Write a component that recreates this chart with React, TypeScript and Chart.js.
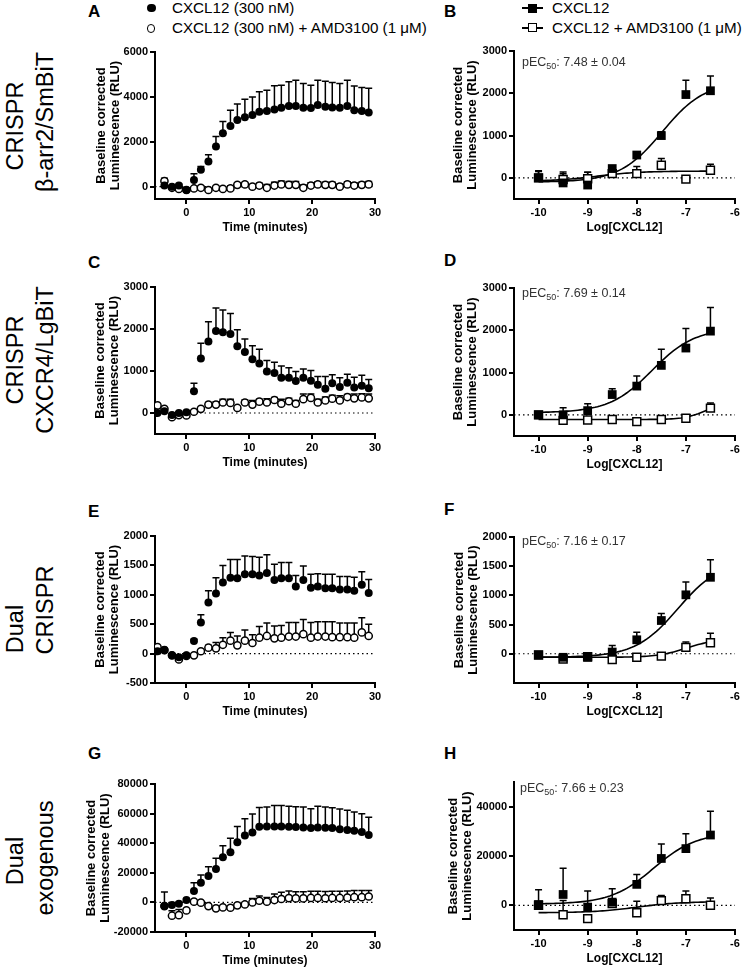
import React, { useEffect, useRef } from 'react';
import { Chart, registerables } from 'chart.js';

Chart.register(...registerables);

const FONT = "'Liberation Sans', Arial, Helvetica, sans-serif";

// ---------- Time-course data (minutes) ----------
const TIMES = [-4.6, -3.5, -2.3, -1.2, 0, 1.2, 2.3, 3.5, 4.7, 5.8, 7.0, 8.1, 9.3, 10.5, 11.6, 12.8, 14.0, 15.1, 16.3, 17.4, 18.6, 19.8, 20.9, 22.1, 23.2, 24.4, 25.6, 26.7, 27.9, 29.0];
const TIME_TICKS = [0, 10, 20, 30];

// Panel A
const A_CXCL12 = [null, 50, 0, 50, -150, 300, 750, 1120, 1790, 2380, 2700, 2970, 3090, 3190, 3340, 3370, 3440, 3520, 3590, 3590, 3520, 3500, 3640, 3560, 3530, 3520, 3590, 3410, 3370, 3300];
const A_CXCL12_SEM = [null, 60, 40, 60, 80, 280, 150, 300, 440, 520, 700, 710, 810, 810, 890, 930, 1060, 1000, 1080, 1150, 1080, 1020, 1100, 1140, 1110, 1080, 1150, 1070, 1050, 1080];
const A_AMD = [null, 250, -50, -100, -150, -80, -50, -150, -50, -100, -80, 80, 100, 0, 50, -50, 50, 100, 80, 80, -50, 50, 100, 80, 80, 0, 100, 50, 80, 100];
const A_AMD_SEM = [null, 130, 60, 60, 60, 80, 80, 60, 60, 100, 120, 80, 80, 100, 100, 150, 150, 150, 150, 150, 120, 120, 120, 120, 120, 120, 120, 120, 120, 130];
const A_Y_TICKS = [0, 2000, 4000, 6000];

// Panel C
const C_CXCL12 = [0, 40, -50, 0, 20, 520, 1300, 1700, 1950, 1920, 1880, 1590, 1450, 1280, 1180, 990, 950, 840, 840, 760, 840, 770, 670, 580, 710, 620, 720, 610, 650, 590];
const C_CXCL12_SEM = [30, 30, 30, 30, 30, 190, 360, 470, 550, 530, 490, 390, 310, 320, 340, 260, 260, 280, 240, 230, 210, 240, 200, 290, 200, 220, 200, 240, 250, 210];
const C_AMD = [180, 100, -100, -50, -60, 30, 100, 200, 200, 250, 240, 120, 250, 200, 270, 250, 310, 220, 280, 220, 330, 360, 250, 300, 340, 300, 380, 350, 370, 350];
const C_AMD_SEM = [30, 30, 30, 30, 30, 30, 30, 50, 70, 80, 90, 40, 60, 100, 60, 90, 60, 110, 70, 80, 120, 90, 80, 80, 80, 110, 60, 100, 90, 100];
const C_Y_TICKS = [0, 1000, 2000, 3000];

// Panel E
const E_CXCL12 = [40, 60, -30, -60, -30, 215, 530, 870, 1020, 1210, 1290, 1280, 1350, 1350, 1330, 1370, 1250, 1280, 1280, 1140, 1250, 1120, 1140, 1110, 1110, 1090, 1090, 1070, 1170, 1030];
const E_CXCL12_SEM = [20, 20, 20, 20, 20, 30, 130, 200, 270, 290, 310, 320, 310, 300, 310, 310, 270, 270, 270, 190, 240, 230, 220, 240, 240, 220, 220, 230, 220, 230];
const E_AMD = [110, 60, -30, -100, -40, -30, 40, 100, 90, 150, 220, 140, 220, 180, 270, 300, 260, 270, 290, 290, 330, 270, 290, 290, 280, 280, 280, 270, 360, 300];
const E_AMD_SEM = [20, 20, 20, 20, 20, 20, 20, 40, 100, 120, 140, 160, 180, 140, 190, 220, 210, 210, 240, 240, 250, 260, 250, 250, 260, 240, 240, 250, 250, 200];
const E_Y_TICKS = [-500, 0, 500, 1000, 1500, 2000];

// Panel G
const G_CXCL12 = [null, -2500, -1800, -900, 1600, 7700, 13300, 17800, 22600, 30500, 33900, 40700, 45200, 47200, 51100, 51300, 51300, 51300, 51100, 50900, 50600, 50200, 50600, 50400, 50200, 49500, 49000, 48400, 47500, 45500];
const G_CXCL12_SEM = [null, 9500, 1500, 1000, 1000, 5600, 5200, 6300, 7200, 7700, 9500, 10600, 11300, 12500, 13100, 13100, 14200, 14200, 13800, 13700, 13800, 13100, 14300, 14000, 13800, 13600, 13200, 12600, 12400, 12000];
const G_AMD = [null, -2500, -9000, -8600, -5400, 500, -200, -2500, -4000, -3400, -3600, -2000, -1400, 0, 1100, 500, 1600, 2300, 2900, 2700, 2700, 3000, 3000, 2800, 3000, 3000, 3200, 3500, 3500, 4000];
const G_AMD_SEM = [null, 500, 3300, 3800, 800, 1000, 1000, 800, 800, 1000, 1000, 1000, 1200, 2700, 3200, 2800, 4000, 4500, 4800, 4500, 4500, 4500, 4500, 4500, 4500, 4500, 4500, 4500, 4500, 4000];
const G_Y_TICKS = [-20000, 0, 20000, 40000, 60000, 80000];

// ---------- Concentration-response data (log M) ----------
const LOG_DOSE = [-10, -9.5, -9, -8.5, -8, -7.5, -7, -6.5];
const DOSE_TICKS = [-10, -9, -8, -7, -6];

const B_CXCL12 = [0, -120, -170, 220, 540, 1000, 1970, 2060];
const B_CXCL12_SEM = [170, 220, 300, 50, 80, 90, 340, 350];
const B_AMD = [0, -40, -20, 100, 100, 300, -30, 180];
const B_AMD_SEM = [150, 180, 150, 30, 170, 160, 40, 140];
const B_FIT_CXCL12 = [-100, 2280, -7.48, 1]; // bottom, top, logEC50, hill
const B_FIT_AMD = [-80, 160, -8.8, 1];
const B_Y_TICKS = [0, 1000, 2000, 3000];

const D_CXCL12 = [0, 0, 100, 480, 680, 1170, 1580, 1980];
const D_CXCL12_SEM = [30, 170, 160, 140, 240, 380, 460, 560];
const D_AMD = [0, -130, -120, -110, -160, -110, -80, 160];
const D_AMD_SEM = [20, 20, 20, 20, 20, 20, 80, 120];
const D_FIT_CXCL12 = [50, 2050, -7.69, 1];
const D_FIT_AMD = [-110, 300, -6.6, 2];
const D_Y_TICKS = [0, 1000, 2000, 3000];

const F_CXCL12 = [-20, -60, -60, 30, 240, 570, 1010, 1310];
const F_CXCL12_SEM = [10, 10, 10, 110, 130, 120, 220, 300];
const F_AMD = [-20, -90, -50, -100, -60, -40, 110, 190];
const F_AMD_SEM = [10, 10, 10, 10, 10, 10, 90, 160];
const F_FIT_CXCL12 = [-60, 1610, -7.16, 1];
const F_FIT_AMD = [-60, 250, -7.0, 1.5];
const F_Y_TICKS = [0, 500, 1000, 1500, 2000];

const H_CXCL12 = [300, 4400, -700, 1300, 8500, 19000, 23000, 28500];
const H_CXCL12_SEM = [6000, 10600, 6500, 5400, 4000, 5900, 6000, 9600];
const H_AMD = [0, -3800, -5400, 700, -3000, 1900, 2700, 0];
const H_AMD_SEM = [500, 5800, 500, 500, 4700, 2100, 3100, 3000];
const H_FIT_CXCL12 = [500, 29500, -7.66, 1];
const H_FIT_AMD = [-3000, 1500, -8.0, 1];
const H_Y_TICKS = [0, 20000, 40000];

const PEC50_LABELS = ['7.48 ± 0.04', '7.69 ± 0.14', '7.16 ± 0.17', '7.66 ± 0.23'];

// Sampling grid for drawing the fitted curves
const CURVE_X = Array.from({ length: 71 }, (_, i) => -10 + i * 0.05);
const sigmoid = (x: number, p: number[]) => p[0] + (p[1] - p[0]) / (1 + Math.pow(10, (p[2] - x) * p[3]));

type PanelCfg = {
  kind: 'time' | 'dose';
  cl: number; // canvas left (y-title starts here)
  plot: { l: number; t: number; r: number; b: number };
  xMin: number; xMax: number; xTicks: number[];
  yMin: number; yMax: number; yTicks: number[];
  filled: (number | null)[]; filledErr: (number | null)[];
  open: (number | null)[]; openErr: (number | null)[];
  fitFilled?: number[]; fitOpen?: number[];
};

const PANELS: PanelCfg[] = [
  { kind: 'time', cl: 94, plot: { l: 155, t: 52, r: 375, b: 199 }, xMin: -5, xMax: 30, xTicks: TIME_TICKS, yMin: -550, yMax: 6000, yTicks: A_Y_TICKS, filled: A_CXCL12, filledErr: A_CXCL12_SEM, open: A_AMD, openErr: A_AMD_SEM },
  { kind: 'dose', cl: 451, plot: { l: 514, t: 51, r: 735, b: 199 }, xMin: -10.5, xMax: -6, xTicks: DOSE_TICKS, yMin: -500, yMax: 3000, yTicks: B_Y_TICKS, filled: B_CXCL12, filledErr: B_CXCL12_SEM, open: B_AMD, openErr: B_AMD_SEM, fitFilled: B_FIT_CXCL12, fitOpen: B_FIT_AMD },
  { kind: 'time', cl: 93, plot: { l: 155, t: 287, r: 375, b: 434 }, xMin: -5, xMax: 30, xTicks: TIME_TICKS, yMin: -500, yMax: 3000, yTicks: C_Y_TICKS, filled: C_CXCL12, filledErr: C_CXCL12_SEM, open: C_AMD, openErr: C_AMD_SEM },
  { kind: 'dose', cl: 451, plot: { l: 514, t: 288, r: 735, b: 436 }, xMin: -10.5, xMax: -6, xTicks: DOSE_TICKS, yMin: -500, yMax: 3000, yTicks: D_Y_TICKS, filled: D_CXCL12, filledErr: D_CXCL12_SEM, open: D_AMD, openErr: D_AMD_SEM, fitFilled: D_FIT_CXCL12, fitOpen: D_FIT_AMD },
  { kind: 'time', cl: 93, plot: { l: 155, t: 536, r: 375, b: 683 }, xMin: -5, xMax: 30, xTicks: TIME_TICKS, yMin: -500, yMax: 2000, yTicks: E_Y_TICKS, filled: E_CXCL12, filledErr: E_CXCL12_SEM, open: E_AMD, openErr: E_AMD_SEM },
  { kind: 'dose', cl: 452, plot: { l: 514, t: 537, r: 735, b: 683 }, xMin: -10.5, xMax: -6, xTicks: DOSE_TICKS, yMin: -500, yMax: 2000, yTicks: F_Y_TICKS, filled: F_CXCL12, filledErr: F_CXCL12_SEM, open: F_AMD, openErr: F_AMD_SEM, fitFilled: F_FIT_CXCL12, fitOpen: F_FIT_AMD },
  { kind: 'time', cl: 84, plot: { l: 155, t: 784, r: 375, b: 932 }, xMin: -5, xMax: 30, xTicks: TIME_TICKS, yMin: -20000, yMax: 80000, yTicks: G_Y_TICKS, filled: G_CXCL12, filledErr: G_CXCL12_SEM, open: G_AMD, openErr: G_AMD_SEM },
  { kind: 'dose', cl: 446, plot: { l: 514, t: 782, r: 735, b: 930 }, xMin: -10.5, xMax: -6, xTicks: DOSE_TICKS, yMin: -10000, yMax: 50000, yTicks: H_Y_TICKS, filled: H_CXCL12, filledErr: H_CXCL12_SEM, open: H_AMD, openErr: H_AMD_SEM, fitFilled: H_FIT_CXCL12, fitOpen: H_FIT_AMD },
];

const errorBarPlugin = {
  id: 'errorBars',
  beforeDatasetsDraw(chart: any) {
    const ctx = chart.ctx;
    const xs = chart.scales.x;
    const ys = chart.scales.y;
    chart.data.datasets.forEach((ds: any) => {
      const errs = ds.errors;
      if (!errs) return;
      ctx.save();
      ctx.strokeStyle = '#000';
      ctx.lineWidth = 1.5;
      ds.data.forEach((p: any, j: number) => {
        const e = errs[j];
        if (!p || p.y == null || e == null) return;
        const px = xs.getPixelForValue(p.x);
        const y0 = ys.getPixelForValue(p.y);
        const y1 = ys.getPixelForValue(p.y + e);
        ctx.beginPath();
        ctx.moveTo(px, y0);
        ctx.lineTo(px, y1);
        ctx.moveTo(px - 3.5, y1);
        ctx.lineTo(px + 3.5, y1);
        ctx.stroke();
      });
      ctx.restore();
    });
  },
};

const X_AXIS_H = 36;

function PanelChart({ cfg }: { cfg: PanelCfg }) {
  const ref = useRef<HTMLCanvasElement>(null);
  const cl = cfg.cl;
  const yW = cfg.plot.l - cl;
  const ct = cfg.plot.t - 10;
  const w = cfg.plot.r + 14 - cl;
  const h = cfg.plot.b - cfg.plot.t + 10 + X_AXIS_H;

  useEffect(() => {
    const xs = cfg.kind === 'time' ? TIMES : LOG_DOSE;
    const isDose = cfg.kind === 'dose';
    const datasets: any[] = [
      {
        label: 'CXCL12',
        data: xs.map((x, i) => ({ x, y: cfg.filled[i] })),
        errors: cfg.filledErr,
        showLine: false,
        pointStyle: isDose ? 'rect' : 'circle',
        pointRadius: isDose ? 6.2 : 4,
        backgroundColor: '#000',
        borderColor: '#000',
        borderWidth: 0,
      },
      {
        label: 'CXCL12 + AMD3100',
        data: xs.map((x, i) => ({ x, y: cfg.open[i] })),
        errors: cfg.openErr,
        showLine: false,
        pointStyle: isDose ? 'rect' : 'circle',
        pointRadius: isDose ? 5.6 : 3.6,
        backgroundColor: '#fff',
        borderColor: '#000',
        borderWidth: 1.5,
      },
    ];
    if (cfg.fitFilled) {
      datasets.push({ data: CURVE_X.map((x) => ({ x, y: sigmoid(x, cfg.fitFilled!) })), showLine: true, pointRadius: 0, borderColor: '#000', borderWidth: 1.6 });
    }
    if (cfg.fitOpen) {
      datasets.push({ data: CURVE_X.map((x) => ({ x, y: sigmoid(x, cfg.fitOpen!) })), showLine: true, pointRadius: 0, borderColor: '#000', borderWidth: 1.6 });
    }
    datasets.push({
      data: [{ x: cfg.xMin, y: 0 }, { x: cfg.xMax, y: 0 }],
      showLine: true,
      pointRadius: 0,
      borderColor: '#000',
      borderWidth: 1.1,
      borderDash: [1.5, 3],
    });

    const tickFont = { family: FONT, size: 11, weight: 'bold' as const };
    const chart = new Chart(ref.current!, {
      type: 'scatter',
      data: { datasets },
      plugins: [errorBarPlugin],
      options: {
        animation: false,
        responsive: false,
        devicePixelRatio: 1,
        events: [],
        layout: { padding: { left: 0, top: 10, right: 14, bottom: 0 } },
        plugins: { legend: { display: false }, tooltip: { enabled: false } },
        scales: {
          x: {
            type: 'linear',
            min: cfg.xMin,
            max: cfg.xMax,
            afterBuildTicks: (s: any) => { s.ticks = cfg.xTicks.map((v) => ({ value: v })); },
            afterFit: (s: any) => { s.height = X_AXIS_H; },
            ticks: { font: tickFont, color: '#000', padding: 2, autoSkip: false, maxRotation: 0, callback: (v: any) => String(v) },
            grid: { display: true, drawOnChartArea: false, drawTicks: true, tickLength: 5, color: '#000', lineWidth: 2 },
            border: { display: true, color: '#000', width: 2 },
            title: {
              display: true,
              text: isDose ? 'Log[CXCL12]' : 'Time (minutes)',
              color: '#000',
              font: { family: FONT, size: 12, weight: 'bold', lineHeight: 1.2 },
              padding: { top: 0, bottom: 0 },
            },
          },
          y: {
            type: 'linear',
            min: cfg.yMin,
            max: cfg.yMax,
            afterBuildTicks: (s: any) => { s.ticks = cfg.yTicks.map((v) => ({ value: v })); },
            afterFit: (s: any) => { s.width = yW; },
            ticks: { font: tickFont, color: '#000', padding: 2, autoSkip: false, callback: (v: any) => String(v) },
            grid: { display: true, drawOnChartArea: false, drawTicks: true, tickLength: 5, color: '#000', lineWidth: 2 },
            border: { display: true, color: '#000', width: 2 },
            title: {
              display: true,
              text: ['Baseline corrected', 'Luminescence (RLU)'],
              color: '#000',
              font: { family: FONT, size: 13, weight: 'bold', lineHeight: 1.1 },
              padding: { top: 0, bottom: 0 },
            },
          },
        },
      } as any,
    });
    return () => chart.destroy();
  }, []);

  return (
    <canvas
      ref={ref}
      width={w}
      height={h}
      style={{ position: 'absolute', left: cl, top: ct, width: w, height: h }}
    />
  );
}

const PANEL_LETTERS = [
  { t: 'A', x: 88, y: 3 }, { t: 'B', x: 444, y: 3 },
  { t: 'C', x: 88, y: 254 }, { t: 'D', x: 444, y: 252 },
  { t: 'E', x: 88, y: 503 }, { t: 'F', x: 444, y: 501 },
  { t: 'G', x: 88, y: 745 }, { t: 'H', x: 444, y: 745 },
];

const ROW_LABELS = [
  { t: 'CRISPR', cx: 15, cy: 126 }, { t: 'β-arr2/SmBiT', cx: 45, cy: 122 },
  { t: 'CRISPR', cx: 15, cy: 360 }, { t: 'CXCR4/LgBiT', cx: 45, cy: 360 },
  { t: 'Dual', cx: 15, cy: 629 }, { t: 'CRISPR', cx: 45, cy: 610 },
  { t: 'Dual', cx: 15, cy: 861 }, { t: 'exogenous', cx: 45, cy: 858 },
];

const PEC50_POS = [{ x: 522, y: 62 }, { x: 522, y: 293 }, { x: 522, y: 541 }, { x: 520, y: 788 }];

export default function App() {
  const txt: React.CSSProperties = { position: 'absolute', fontFamily: FONT, color: '#000', whiteSpace: 'nowrap' };
  return (
    <div style={{ position: 'absolute', left: 0, top: 0, width: 744, height: 970, background: '#fff', overflow: 'hidden' }}>
      {PANELS.map((p, i) => <PanelChart key={i} cfg={p} />)}

      {PANEL_LETTERS.map((l) => (
        <div key={l.t} style={{ ...txt, left: l.x, top: l.y, fontSize: 17, lineHeight: '17px', fontWeight: 'bold' }}>{l.t}</div>
      ))}

      {ROW_LABELS.map((r, i) => (
        <div key={i} style={{ ...txt, left: r.cx - 150, top: r.cy - 15, width: 300, height: 30, lineHeight: '30px', fontSize: 23.5, textAlign: 'center', transform: 'rotate(-90deg)' }}>{r.t}</div>
      ))}

      {/* Left legend */}
      <div style={{ position: 'absolute', left: 147, top: 3.5, width: 8.5, height: 8.5, borderRadius: '50%', background: '#000' }} />
      <div style={{ ...txt, left: 172, top: -1, fontSize: 15.2, lineHeight: '18px' }}>CXCL12 (300 nM)</div>
      <div style={{ position: 'absolute', left: 146.5, top: 24, width: 6.5, height: 6.5, borderRadius: '50%', border: '1.5px solid #000', background: '#fff' }} />
      <div style={{ ...txt, left: 172, top: 19, fontSize: 15.2, lineHeight: '18px' }}>CXCL12 (300 nM) + AMD3100 (1 μM)</div>

      {/* Right legend */}
      <div style={{ position: 'absolute', left: 522, top: 7, width: 21, height: 2, background: '#000' }} />
      <div style={{ position: 'absolute', left: 527.5, top: 3.5, width: 9, height: 9, background: '#000' }} />
      <div style={{ ...txt, left: 552, top: -1, fontSize: 15.2, lineHeight: '18px' }}>CXCL12</div>
      <div style={{ position: 'absolute', left: 522, top: 27, width: 21, height: 2, background: '#000' }} />
      <div style={{ position: 'absolute', left: 527.5, top: 23, width: 7, height: 7, border: '1.5px solid #000', background: '#fff' }} />
      <div style={{ ...txt, left: 552, top: 19, fontSize: 15.2, lineHeight: '18px' }}>CXCL12 + AMD3100 (1 μM)</div>

      {PEC50_LABELS.map((s, i) => (
        <div key={i} style={{ ...txt, left: PEC50_POS[i].x, top: PEC50_POS[i].y - 8, fontSize: 12.5, lineHeight: '16px', color: '#333' }}>
          pEC<span style={{ fontSize: '0.72em', position: 'relative', top: '0.3em' }}>50</span>: {s}
        </div>
      ))}
    </div>
  );
}
